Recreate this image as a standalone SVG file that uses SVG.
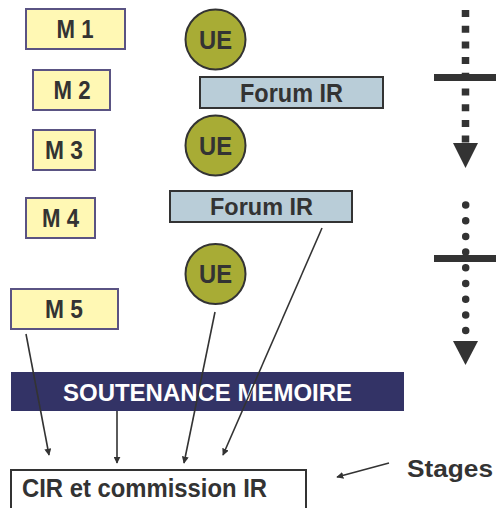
<svg xmlns="http://www.w3.org/2000/svg" width="497" height="508" viewBox="0 0 497 508">
<style>
.m{fill:#FFF8B4;stroke:#5A5383;stroke-width:2}
.ue{fill:#A8AC35;stroke:#333;stroke-width:2}
.fo{fill:#B9CDD8;stroke:#333;stroke-width:2}
text{font-family:"Liberation Sans",Arial,sans-serif;font-weight:bold;fill:#333}
.c{text-anchor:middle}
.ln{stroke:#333;stroke-width:1.6;fill:none;marker-end:url(#ah)}
</style>
<defs>
<marker id="ah" viewBox="0 0 10 10" refX="9" refY="5" markerWidth="7" markerHeight="7" markerUnits="userSpaceOnUse" orient="auto"><path d="M0,0 L10,5 L0,10 Z" fill="#333"/></marker>
</defs>
<rect width="497" height="508" fill="#fff"/>
<g id="m1"><rect class="m" x="26" y="9" width="99" height="40"/><text class="c" x="75" y="38" font-size="25" textLength="37" lengthAdjust="spacingAndGlyphs">M 1</text></g>
<g id="m2"><rect class="m" x="33" y="70" width="77" height="40"/><text class="c" x="72" y="99" font-size="25" textLength="37" lengthAdjust="spacingAndGlyphs">M 2</text></g>
<g id="m3"><rect class="m" x="33" y="130" width="62" height="40"/><text class="c" x="64" y="159" font-size="25" textLength="38" lengthAdjust="spacingAndGlyphs">M 3</text></g>
<g id="m4"><rect class="m" x="26" y="198" width="69" height="40"/><text class="c" x="60.5" y="227" font-size="25" textLength="37" lengthAdjust="spacingAndGlyphs">M 4</text></g>
<g id="m5"><rect class="m" x="11" y="289" width="107" height="40"/><text class="c" x="64" y="318" font-size="25" textLength="38" lengthAdjust="spacingAndGlyphs">M 5</text></g>
<g id="ue1"><circle class="ue" cx="215.5" cy="39.5" r="30"/><text class="c" x="215.5" y="49" font-size="25" textLength="33" lengthAdjust="spacingAndGlyphs">UE</text></g>
<g id="ue2"><circle class="ue" cx="215.5" cy="145.5" r="30"/><text class="c" x="215.5" y="155" font-size="25" textLength="33" lengthAdjust="spacingAndGlyphs">UE</text></g>
<g id="ue3"><circle class="ue" cx="215.5" cy="274" r="30"/><text class="c" x="215.5" y="283" font-size="25" textLength="33" lengthAdjust="spacingAndGlyphs">UE</text></g>
<g id="forum1"><rect class="fo" x="200" y="77" width="183" height="31"/><text x="240" y="102" font-size="25" textLength="103" lengthAdjust="spacingAndGlyphs">Forum IR</text></g>
<g id="forum2"><rect class="fo" x="170" y="191" width="182" height="31"/><text x="210" y="215" font-size="24" textLength="103" lengthAdjust="spacingAndGlyphs">Forum IR</text></g>
<g id="soutenance"><rect x="11" y="372" width="393" height="39" fill="#333366"/><text x="63" y="401" font-size="24" textLength="289" lengthAdjust="spacingAndGlyphs" style="fill:#fff">SOUTENANCE MEMOIRE</text></g>
<g id="cir"><rect x="11" y="470" width="295" height="44" fill="#fff" stroke="#333" stroke-width="2"/><text x="22" y="497" font-size="26" textLength="245" lengthAdjust="spacingAndGlyphs">CIR et commission IR</text></g>
<g id="stages"><text x="407" y="477" font-size="24" textLength="86" lengthAdjust="spacingAndGlyphs">Stages</text></g>
<g id="timeline1">
<line x1="465.5" y1="10" x2="465.5" y2="144" stroke="#333" stroke-width="7.5" stroke-dasharray="7 8.7"/>
<rect x="434" y="74" width="62" height="7" fill="#333"/>
<path d="M453,143 L478,143 L465.5,168 Z" fill="#333"/>
</g>
<g id="timeline2">
<line x1="465.7" y1="205" x2="465.7" y2="334" stroke="#333" stroke-width="7.5" stroke-linecap="round" stroke-dasharray="0 15.7"/>
<rect x="434" y="255" width="62" height="7" fill="#333"/>
<path d="M453,341 L478,341 L465.5,365 Z" fill="#333"/>
</g>
<g id="connectors">
<line class="ln" x1="26" y1="334" x2="49" y2="455"/>
<line class="ln" x1="117" y1="411" x2="117" y2="463"/>
<line class="ln" x1="215" y1="312" x2="184" y2="463"/>
<line class="ln" x1="322" y1="228" x2="223" y2="455"/>
<line class="ln" x1="389" y1="463" x2="337" y2="477"/>
</g>
</svg>
